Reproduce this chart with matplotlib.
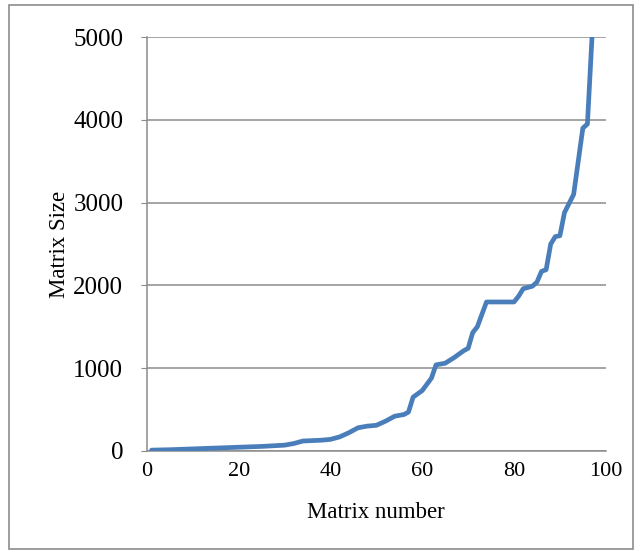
import matplotlib
matplotlib.use("Agg")
import matplotlib.pyplot as plt
from matplotlib.patches import Rectangle

# matrix index vs. matrix size
matrix_number = [1, 5, 10, 15, 20, 25, 30, 32, 34, 36, 38, 40, 42, 44, 46, 48,
                 50, 52, 54, 56, 57, 58, 60, 62, 63, 65, 67, 69, 70, 71, 72,
                 74, 80, 81, 82, 84, 85, 86, 87, 88, 89, 90, 91, 92, 93, 94,
                 95, 96, 97]
matrix_size = [10, 15, 25, 35, 45, 55, 70, 90, 120, 125, 130, 140, 170, 220,
               280, 300, 310, 360, 420, 440, 470, 650, 730, 880, 1040, 1060,
               1130, 1210, 1240, 1430, 1500, 1800, 1800, 1870, 1960, 1990,
               2040, 2170, 2190, 2500, 2590, 2600, 2880, 2990, 3100, 3500,
               3900, 3950, 5000]

x_ticks = [0, 20, 40, 60, 80, 100]
y_ticks = [0, 1000, 2000, 3000, 4000, 5000]

serif = "Liberation Serif"

fig = plt.figure(figsize=(6.39, 5.54), dpi=100)
ax = fig.add_axes([0.230, 0.186, 0.718, 0.747])

ax.plot(matrix_number, matrix_size, color="#4A7EBB", lw=3.4,
        solid_joinstyle="round", solid_capstyle="round", zorder=3)

ax.set_xlim(0, 100)
ax.set_ylim(0, 5000)
ax.set_xticks(x_ticks)
ax.set_yticks(y_ticks)
ax.yaxis.grid(True, color="#8c8c8c", lw=1.1)
ax.set_axisbelow(True)

for s in ["top", "right"]:
    ax.spines[s].set_visible(False)
for s in ["left", "bottom"]:
    ax.spines[s].set_color("#8c8c8c")
    ax.spines[s].set_linewidth(1.1)

ax.tick_params(axis="x", length=0, pad=8, labelsize=16)
ax.tick_params(axis="y", length=4, color="#8c8c8c", pad=13, labelsize=18)
for lbl in ax.get_xticklabels() + ax.get_yticklabels():
    lbl.set_fontfamily(serif)

ax.set_xlabel("Matrix number", family=serif, fontsize=16.5, labelpad=15)
ax.set_ylabel("Matrix Size", family=serif, fontsize=16.5, labelpad=2.5)

fig.patches.append(Rectangle((9 / 639, 5 / 554), 624 / 639, 544 / 554,
                             transform=fig.transFigure, fill=False,
                             edgecolor="#8c8c8c", lw=1.2))

fig.savefig("out.png", dpi=100)
